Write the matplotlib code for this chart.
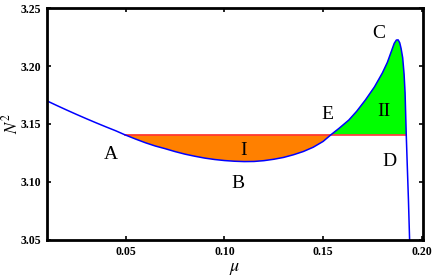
import numpy as np
import matplotlib
matplotlib.use("Agg")
import matplotlib.pyplot as plt

plt.rcParams["mathtext.fontset"] = "stix"

# curve N^2(mu)
mu = np.array([0.010, 0.015, 0.020, 0.025, 0.030, 0.035, 0.040, 0.045, 0.0494,
               0.055, 0.060, 0.065, 0.070, 0.075, 0.080, 0.085, 0.090, 0.095,
               0.100, 0.105, 0.110, 0.115, 0.120, 0.125, 0.130, 0.135, 0.140,
               0.145, 0.150, 0.154, 0.158, 0.163, 0.167, 0.1714, 0.176, 0.180,
               0.1825, 0.1848, 0.186, 0.1871, 0.188, 0.1888, 0.1895, 0.1903,
               0.1910, 0.1915, 0.1921, 0.1926, 0.1932, 0.1938])
n2 = np.array([3.1700, 3.1660, 3.1621, 3.1583, 3.1546, 3.1510, 3.1475, 3.1441, 3.1408,
               3.1370, 3.1338, 3.1310, 3.1287, 3.1262, 3.1240, 3.1222, 3.1206, 3.1194,
               3.1185, 3.1179, 3.1176, 3.1177, 3.1184, 3.1196, 3.1212, 3.1235, 3.1263,
               3.1300, 3.1350, 3.1408, 3.1462, 3.1534, 3.1610, 3.1707, 3.1820, 3.1940,
               3.2030, 3.2138, 3.2195, 3.2224, 3.2225, 3.2200, 3.2150, 3.2070,
               3.1930, 3.1770, 3.1408, 3.1150, 3.0850, 3.0500])

level = 3.1408      # Maxwell line A-D
mu_a, mu_d = 0.0494, 0.1921

labels = ["A", "B", "C", "D", "E", "I", "II"]
label_x = [0.0424, 0.107, 0.178, 0.1837, 0.152, 0.1095, 0.181]
label_y = [3.124, 3.099, 3.228, 3.118, 3.158, 3.127, 3.161]

xticks = [0.05, 0.10, 0.15, 0.20]
yticks = [3.05, 3.10, 3.15, 3.20, 3.25]

fig = plt.figure(figsize=(4.36, 2.8), dpi=100)
ax = fig.add_axes([0.1078, 0.1429, 0.862, 0.8285])

inside = (mu >= mu_a) & (mu <= mu_d)
ax.fill_between(mu, n2, level, where=inside & (n2 <= level), interpolate=True,
                color="#FF8000", lw=0)
ax.fill_between(mu, n2, level, where=inside & (n2 >= level), interpolate=True,
                color="#00FF00", lw=0)
ax.plot([mu_a, mu_d], [level, level], color="#FF3333", lw=1.2)
ax.plot(mu, n2, color="#0000FF", lw=1.1)

for s, x, y in zip(labels, label_x, label_y):
    ax.text(x, y, s, family="Liberation Serif", fontsize=14, ha="center", va="center")

ax.set_xlim(0.0101, 0.2005)
ax.set_ylim(3.05, 3.25)
ax.set_xticks(xticks)
ax.set_yticks(yticks)
ax.set_xticklabels(["%.2f" % t for t in xticks], family="Liberation Serif",
                   fontweight="bold", fontsize=8.5)
ax.set_yticklabels(["%.2f" % t for t in yticks], family="Liberation Serif",
                   fontweight="bold", fontsize=8.5)
ax.tick_params(direction="in", length=3, width=1.2, top=True, right=True, pad=4)
for sp in ax.spines.values():
    sp.set_linewidth(2)

ax.set_xlabel(r"$\mu$", fontsize=13)
ax.set_ylabel(r"$N^2$", fontsize=12)
ax.xaxis.set_label_coords(0.5, -0.08)
ax.yaxis.set_label_coords(-0.068, 0.5)

fig.savefig("out.png", dpi=100)
